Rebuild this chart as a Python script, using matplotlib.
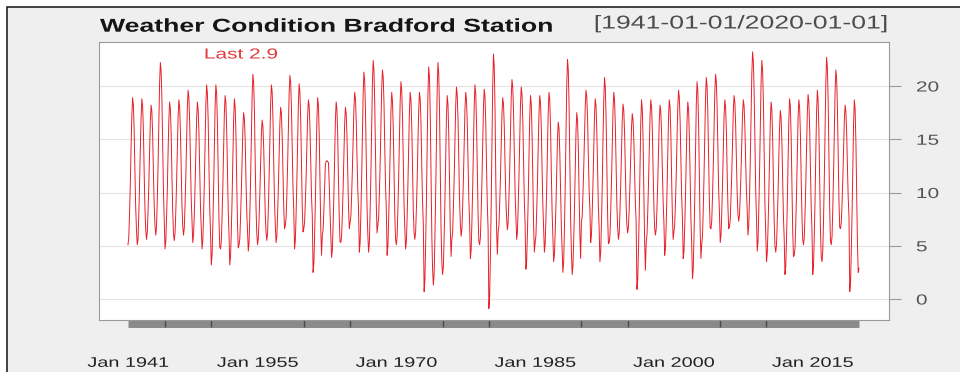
import numpy as np
import pandas as pd
import matplotlib
matplotlib.use("Agg")
import matplotlib.pyplot as plt
import matplotlib.dates as mdates
from matplotlib import patheffects
from matplotlib.ticker import FixedLocator
from matplotlib.transforms import Affine2D, blended_transform_factory
from matplotlib.patches import Rectangle

# Monthly temperature (deg C), one row per year, Jan..Dec
temps_1940s = [
    [5.1, 5.8, 7.9, 10.6, 14.1, 17.2, 18.9, 18.2, 15.9, 12.0, 8.6, 6.5],
    [5.1, 5.6, 7.8, 10.6, 14.0, 17.0, 18.8, 18.1, 15.8, 11.9, 8.5, 6.5],
    [5.6, 6.3, 8.1, 10.6, 13.8, 16.7, 18.2, 17.6, 15.4, 11.9, 8.8, 6.9],
    [6.0, 6.8, 9.2, 12.5, 16.5, 20.3, 22.2, 21.4, 18.6, 14.1, 10.1, 7.6],
    [4.7, 5.4, 7.5, 10.2, 13.7, 16.8, 18.5, 17.8, 15.5, 11.6, 8.2, 6.1],
    [5.5, 6.2, 8.1, 10.8, 14.1, 17.1, 18.7, 18.0, 15.8, 12.1, 8.8, 6.8],
    [6.0, 6.7, 8.7, 11.4, 14.8, 18.0, 19.6, 18.9, 16.6, 12.8, 9.4, 7.4],
    [5.3, 6.0, 7.9, 10.6, 13.9, 16.9, 18.5, 17.8, 15.6, 11.9, 8.6, 6.6],
    [4.7, 5.5, 7.8, 10.9, 14.7, 18.3, 20.1, 19.3, 16.7, 12.4, 8.6, 6.2],
]
temps_1950s = [
    [3.2, 4.1, 6.6, 10.0, 14.2, 18.1, 20.1, 19.3, 16.4, 11.7, 7.4, 4.9],
    [4.7, 5.4, 7.6, 10.5, 14.1, 17.4, 19.1, 18.4, 15.9, 11.9, 8.3, 6.1],
    [3.2, 4.0, 6.3, 9.4, 13.3, 16.9, 18.8, 18.0, 15.4, 11.0, 7.1, 4.8],
    [5.1, 5.7, 7.6, 10.1, 13.2, 16.0, 17.5, 16.9, 14.8, 11.3, 8.2, 6.3],
    [4.5, 5.3, 7.8, 11.1, 15.3, 19.1, 21.1, 20.3, 17.5, 12.8, 8.7, 6.2],
    [5.1, 5.7, 7.4, 9.8, 12.7, 15.4, 16.8, 16.2, 14.2, 11.0, 8.0, 6.3],
    [5.5, 6.2, 8.4, 11.3, 15.0, 18.4, 20.1, 19.4, 16.9, 12.8, 9.2, 7.0],
    [5.3, 5.9, 7.8, 10.4, 13.6, 16.5, 18.0, 17.4, 15.2, 11.7, 8.5, 6.6],
    [6.9, 7.6, 9.7, 12.5, 16.1, 19.3, 21.0, 20.3, 17.9, 14.0, 10.4, 8.3],
    [4.7, 5.5, 7.8, 10.9, 14.8, 18.3, 20.2, 19.4, 16.8, 12.5, 8.6, 6.3],
]
temps_1960s = [
    [6.6, 7.2, 9.0, 11.4, 14.5, 17.3, 18.7, 18.1, 16.0, 12.7, 9.6, 7.8],
    [2.5, 3.3, 5.8, 9.1, 13.2, 16.9, 18.9, 18.1, 15.3, 10.7, 6.6, 4.1],
    [6.0, 6.5, 8.2, 10.5, 12.6, 12.9, 13.0, 12.9, 12.8, 10.8, 8.2, 6.2],
    [3.9, 4.6, 6.8, 9.7, 13.4, 16.8, 18.5, 17.8, 15.3, 11.2, 7.6, 5.4],
    [5.3, 5.9, 7.8, 10.4, 13.6, 16.5, 18.0, 17.4, 15.2, 11.7, 8.5, 6.6],
    [7.2, 7.8, 9.6, 12.1, 15.1, 17.9, 19.4, 18.8, 16.7, 13.3, 10.3, 8.4],
    [4.4, 5.3, 7.8, 11.2, 15.4, 19.3, 21.3, 20.5, 17.6, 12.9, 8.6, 6.1],
    [4.4, 5.3, 8.0, 11.6, 16.1, 20.2, 22.4, 21.5, 18.4, 13.4, 8.9, 6.2],
    [6.9, 7.6, 9.8, 12.7, 16.4, 19.8, 21.5, 20.8, 18.3, 14.2, 10.6, 8.4],
    [4.1, 4.9, 7.2, 10.2, 14.1, 17.6, 19.4, 18.6, 16.0, 11.8, 7.9, 5.6],
]
temps_1970s = [
    [5.1, 5.9, 8.2, 11.2, 15.1, 18.6, 20.4, 19.6, 17.0, 12.8, 8.9, 6.6],
    [4.7, 5.4, 7.6, 10.6, 14.3, 17.6, 19.4, 18.7, 16.2, 12.1, 8.4, 6.2],
    [5.6, 6.3, 8.4, 11.1, 14.6, 17.7, 19.4, 18.7, 16.4, 12.5, 9.1, 7.0],
    [0.7, 1.8, 4.9, 9.1, 14.4, 19.3, 21.8, 20.8, 17.2, 11.3, 6.0, 2.8],
    [1.3, 2.4, 5.5, 9.7, 14.9, 19.7, 22.2, 21.2, 17.6, 11.8, 6.5, 3.4],
    [2.3, 3.1, 5.7, 9.0, 13.2, 17.1, 19.1, 18.3, 15.4, 10.7, 6.5, 4.0],
    [5.6, 6.3, 8.5, 11.3, 14.9, 18.2, 19.9, 19.2, 16.8, 12.8, 9.2, 7.0],
    [5.9, 6.6, 8.6, 11.3, 14.7, 17.8, 19.4, 18.7, 16.4, 12.7, 9.3, 7.3],
    [3.8, 4.6, 7.1, 10.3, 14.4, 18.1, 20.1, 19.3, 16.5, 12.0, 7.9, 5.4],
    [5.1, 5.8, 8.0, 10.9, 14.6, 18.0, 19.7, 19.0, 16.5, 12.4, 8.8, 6.6],
]
temps_1980s = [
    [-0.9, 0.3, 3.9, 8.7, 14.6, 20.1, 23.0, 21.8, 17.7, 11.1, 6.5, 4.2],
    [6.3, 6.9, 8.8, 11.3, 14.5, 17.4, 18.9, 18.3, 16.1, 12.6, 9.5, 7.6],
    [6.5, 7.2, 9.3, 12.1, 15.7, 18.9, 20.6, 19.9, 17.5, 13.6, 10.0, 7.9],
    [5.6, 6.3, 8.5, 11.3, 14.9, 18.2, 19.9, 19.2, 16.8, 12.8, 9.2, 7.0],
    [2.8, 3.6, 6.1, 9.3, 13.4, 17.1, 19.1, 18.3, 15.5, 11.0, 6.9, 4.4],
    [5.3, 6.0, 8.1, 10.8, 14.3, 17.4, 19.1, 18.4, 16.1, 12.2, 8.8, 6.7],
    [4.4, 5.2, 7.4, 10.4, 14.2, 17.6, 19.4, 18.7, 16.1, 11.9, 8.2, 5.9],
    [3.5, 4.2, 6.1, 8.7, 12.0, 15.0, 16.6, 16.0, 13.7, 10.1, 6.8, 4.8],
    [2.5, 3.5, 6.5, 10.5, 15.5, 20.1, 22.5, 21.5, 18.1, 12.5, 7.5, 4.5],
    [2.3, 3.1, 5.3, 8.4, 12.2, 15.7, 17.5, 16.7, 14.2, 9.9, 6.1, 3.8],
]
temps_1990s = [
    [7.2, 7.8, 9.7, 12.2, 15.3, 18.1, 19.6, 19.0, 16.9, 13.4, 10.3, 8.4],
    [5.3, 6.0, 8.0, 10.7, 14.1, 17.2, 18.8, 18.1, 15.8, 12.1, 8.7, 6.7],
    [3.5, 4.4, 7.0, 10.4, 14.8, 18.7, 20.8, 19.9, 17.0, 12.2, 7.8, 5.2],
    [5.3, 6.0, 8.1, 10.9, 14.5, 17.7, 19.4, 18.7, 16.3, 12.4, 8.8, 6.7],
    [5.6, 6.2, 8.1, 10.7, 13.9, 16.8, 18.3, 17.7, 15.5, 12.0, 8.8, 6.9],
    [6.2, 6.8, 8.4, 10.7, 13.5, 16.1, 17.4, 16.8, 14.9, 11.8, 9.0, 7.3],
    [0.9, 1.8, 4.5, 8.0, 12.5, 16.6, 18.7, 17.8, 14.8, 9.8, 5.4, 2.7],
    [5.3, 6.0, 8.0, 10.7, 14.0, 17.1, 18.7, 18.0, 15.8, 12.0, 8.7, 6.6],
    [6.0, 6.6, 8.4, 10.9, 13.9, 16.7, 18.2, 17.6, 15.5, 12.1, 9.1, 7.2],
    [4.1, 4.8, 7.0, 9.9, 13.6, 17.0, 18.7, 18.0, 15.5, 11.4, 7.8, 5.6],
]
temps_2000s = [
    [6.3, 7.0, 9.0, 11.6, 15.0, 18.0, 19.6, 18.9, 16.7, 13.0, 9.6, 7.6],
    [3.8, 4.5, 6.7, 9.7, 13.4, 16.7, 18.5, 17.8, 15.3, 11.2, 7.5, 5.3],
    [1.9, 2.8, 5.6, 9.3, 13.9, 18.2, 20.4, 19.5, 16.3, 11.2, 6.5, 3.8],
    [5.1, 5.9, 8.2, 11.4, 15.3, 18.9, 20.8, 20.0, 17.4, 13.0, 9.0, 6.7],
    [6.6, 7.3, 9.5, 12.4, 16.0, 19.4, 21.1, 20.4, 17.9, 13.9, 10.2, 8.1],
    [5.3, 6.0, 8.0, 10.7, 14.0, 17.1, 18.7, 18.0, 15.8, 12.0, 8.7, 6.6],
    [6.8, 7.4, 9.3, 11.7, 14.8, 17.6, 19.1, 18.5, 16.4, 13.0, 9.9, 8.0],
    [7.3, 7.9, 9.6, 11.9, 14.7, 17.3, 18.7, 18.1, 16.2, 13.0, 10.2, 8.4],
    [6.0, 6.9, 9.4, 12.9, 17.2, 21.1, 23.2, 22.3, 19.4, 14.6, 10.3, 7.7],
    [4.5, 5.4, 8.1, 11.7, 16.1, 20.3, 22.4, 21.5, 18.5, 13.5, 9.0, 6.3],
]
temps_2010s = [
    [3.5, 4.3, 6.5, 9.5, 13.3, 16.7, 18.5, 17.8, 15.2, 11.0, 7.3, 5.0],
    [4.4, 5.1, 7.1, 9.7, 13.1, 16.1, 17.7, 17.0, 14.8, 11.1, 7.7, 5.7],
    [2.3, 3.1, 5.6, 8.9, 13.0, 16.8, 18.8, 18.0, 15.2, 10.6, 6.4, 4.0],
    [4.1, 4.8, 7.0, 9.9, 13.6, 17.0, 18.7, 18.0, 15.5, 11.4, 7.8, 5.6],
    [5.1, 5.8, 7.9, 10.7, 14.3, 17.5, 19.2, 18.5, 16.1, 12.2, 8.6, 6.5],
    [2.3, 3.2, 5.8, 9.2, 13.6, 17.5, 19.6, 18.7, 15.8, 11.0, 6.6, 4.0],
    [3.5, 4.5, 7.3, 11.2, 16.0, 20.4, 22.7, 21.7, 18.5, 13.1, 8.3, 5.4],
    [5.1, 5.9, 8.4, 11.7, 15.8, 19.5, 21.5, 20.7, 17.9, 13.3, 9.2, 6.7],
    [6.6, 7.2, 8.9, 11.2, 14.1, 16.8, 18.2, 17.6, 15.7, 12.4, 9.5, 7.8],
    [0.7, 1.6, 4.3, 7.9, 12.4, 16.5, 18.7, 17.8, 14.7, 9.7, 5.2, 2.5],
]
temps_2020 = [2.9]

x_label_years = [1941, 1955, 1970, 1985, 2000, 2015]
x_labels = ["Jan 1941", "Jan 1955", "Jan 1970", "Jan 1985", "Jan 2000", "Jan 2015"]
x_mark_years = [1945, 1950, 1955, 1960, 1965, 1970, 1975, 1980,
                1985, 1990, 1995, 2000, 2005, 2010, 2015]
y_ticks = [0, 5, 10, 15, 20]

station = "Bradford Station"

values = np.concatenate(
    [np.ravel(d) for d in (temps_1940s, temps_1950s, temps_1960s, temps_1970s,
                           temps_1980s, temps_1990s, temps_2000s, temps_2010s)]
    + [np.asarray(temps_2020)]
)
dates = pd.date_range("1941-01-01", periods=len(values), freq="MS")

# text in this chart is drawn wide; stretch glyphs horizontally
SX = 1.43


class HStretch(patheffects.AbstractPathEffect):
    def __init__(self, sx, anchor="left"):
        super().__init__()
        self.sx = sx
        self.anchor = anchor

    def draw_path(self, renderer, gc, tpath, affine, rgbFace=None):
        if len(tpath.vertices) == 0:
            return
        ext = tpath.get_extents()
        if self.anchor == "left":
            px = 0.0
        elif self.anchor == "right":
            px = ext.x1
        else:
            px = 0.5 * (ext.x0 + ext.x1)
        tr = Affine2D().translate(-px, 0).scale(self.sx, 1).translate(px, 0) + affine
        renderer.draw_path(gc, tpath, tr, rgbFace)


plt.rcParams["font.family"] = ["Liberation Sans", "DejaVu Sans"]

W, H = 960, 372
fig = plt.figure(figsize=(W / 100, H / 100), dpi=100, facecolor="white")

# grey canvas with a dark edge along top and left
fig.patches.append(Rectangle((7 / W, -0.1), 1.1, (H - 7) / H + 0.1,
                             transform=fig.transFigure, facecolor="#efefef",
                             edgecolor="#111111", linewidth=1.1, zorder=-10))

ax = fig.add_axes([99 / W, 52 / H, 790 / W, 278 / H])
ax.set_facecolor("white")
ax.set_axisbelow(True)

ax.plot(dates, values, color="#e8202a", lw=0.7, zorder=2)

ax.set_xlim(dates[0] - pd.Timedelta(days=1145), dates[-1] + pd.Timedelta(days=1184))
ax.set_ylim(-1.97, 24.13)

for s in ax.spines.values():
    s.set_color("#9a9a9a")
    s.set_linewidth(0.8)

ax.grid(axis="y", color="#e4e4e4", lw=0.8)
ax.grid(axis="x", visible=False)

# y axis on the right
ax.set_yticks(y_ticks)
ax.yaxis.tick_right()
ax.tick_params(axis="y", which="major", length=8.6, width=0.8, color="#9a9a9a",
               pad=10.8, labelsize=10.5, labelcolor="#555555")

# x axis: labels at selected Januaries, marks every five years on a grey bar
ax.set_xticks(pd.to_datetime([f"{y}-01-01" for y in x_label_years]))
ax.set_xticklabels(x_labels)
ax.xaxis.set_minor_locator(FixedLocator(
    mdates.date2num(pd.to_datetime([f"{y}-01-01" for y in x_mark_years]))))
ax.tick_params(axis="x", which="major", length=0, pad=25.8,
               labelsize=10, labelcolor="#222222")
ax.tick_params(axis="x", which="minor", length=5.3, width=1.0,
               color="#4a4a4a", direction="out")

bar_tr = blended_transform_factory(ax.transData, ax.transAxes)
ax.plot([dates[0], dates[-1]], [-0.0126, -0.0126], transform=bar_tr,
        lw=5.0, color="#8a8a8a", solid_capstyle="butt", clip_on=False, zorder=0.3)

for lab in ax.get_xticklabels():
    lab.set_path_effects([HStretch(SX, "center")])
for lab in ax.get_yticklabels():
    lab.set_path_effects([HStretch(SX, "left")])

# titles
fig.text(100 / W, (H - 31.7) / H, f"Weather Condition {station}",
         fontsize=13.4, fontweight="bold", color="#151515",
         ha="left", va="baseline", path_effects=[HStretch(SX, "left")])
fig.text(888 / W, (H - 28.5) / H,
         f"[{dates[0]:%Y-%m-%d}/{dates[-1]:%Y-%m-%d}]",
         fontsize=13.4, color="#4d4d4d",
         ha="right", va="baseline", path_effects=[HStretch(SX, "right")])

# last value legend
ax.text(0.18, 0.9406, f"Last {values[-1]:.1f}", transform=ax.transAxes,
        ha="center", va="baseline", fontsize=10.5, color="#e03a3e",
        path_effects=[HStretch(SX, "center")])

fig.savefig("out.png", dpi=100, facecolor=fig.get_facecolor())
